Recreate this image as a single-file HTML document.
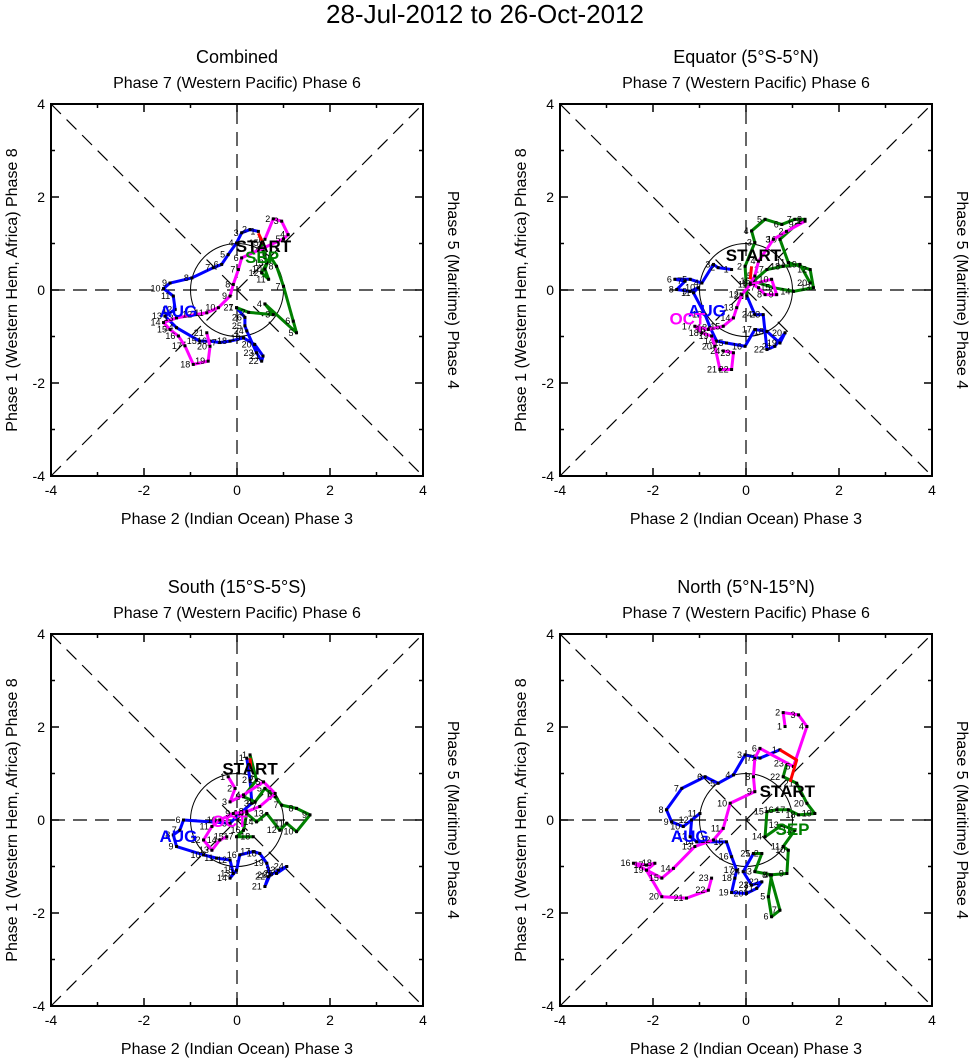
<!DOCTYPE html>
<html><head><meta charset="utf-8"><style>
body{margin:0;background:#fff}
svg{display:block;font-family:"Liberation Sans",sans-serif}
</style></head><body>
<svg id="chart" width="971" height="1058" viewBox="0 0 971 1058" xmlns="http://www.w3.org/2000/svg">
<text x="485" y="23" font-size="26" text-anchor="middle">28-Jul-2012 to 26-Oct-2012</text>
</svg>
<script>
const panelTitles = ["Combined", "Equator (5°S-5°N)", "South (15°S-5°S)", "North (5°N-15°N)"];
const tickValues = [-4, -2, 0, 2, 4];
const augX = [
 [0.46,0.28,0.10,-0.01,-0.19,-0.33,-0.51,-0.97,-1.44,-1.58,-1.37,-1.33,-1.55,-1.30,-0.80,-0.58,-0.37,-0.15,0.14,0.38,0.56,0.53,0.42,0.21,0.17,0.17,-0.01],
 [-0.31,-0.60,-0.70,-0.95,-1.20,-1.53,-1.31,-1.49,-1.20,-1.03,-1.13,-0.88,-0.77,-0.63,-0.42,-0.02,0.19,0.45,0.73,0.84,0.62,0.45,0.37,0.19,0.02],
 [0.21,0.28,0.32,0.06,-0.15,-1.15,-1.23,-1.37,-1.30,-0.72,-0.44,-0.15,-0.08,-0.15,-0.01,0.06,0.35,0.49,0.64,0.71,0.60,0.67,0.89,1.07,0.85],
 [0.73,0.30,-0.02,-0.27,-0.60,-0.88,-1.38,-1.71,-1.60,-1.35,-0.99,-1.17,-1.20,-1.06,-0.42,-0.31,-0.20,-0.24,-0.31,0.01,0.23,0.34,0.12,-0.06,0.16]];
const augY = [
 [1.26,1.30,1.23,1.01,0.76,0.55,0.48,0.26,0.15,0.03,-0.13,-0.42,-0.56,-0.81,-1.10,-1.10,-1.13,-1.10,-1.03,-1.17,-1.42,-1.53,-1.35,-0.88,-0.77,-0.59,-0.38],
 [0.44,0.48,0.55,0.15,0.23,0.23,0.19,0.01,-0.03,0.05,-0.06,-0.53,-0.81,-1.10,-1.14,-1.21,-0.85,-0.89,-1.14,-0.92,-1.21,-1.28,-0.53,-0.53,-0.13],
 [1.33,0.86,0.36,0.14,-0.07,0,-0.22,-0.32,-0.57,-0.75,-0.82,-0.86,-1.15,-1.25,-1.08,-0.75,-0.68,-0.72,-0.93,-1.18,-1.43,-1.22,-1.08,-1.00,-1.15],
 [1.51,1.33,1.40,0.97,0.79,0.93,0.68,0.22,-0.04,-0.14,0.14,0,-0.36,-0.47,-0.47,-0.79,-1.08,-1.25,-1.56,-1.58,-1.47,-1.33,-1.40,-1.11,-0.72]];
const sepX = [
 [-0.01,0.25,0.78,0.60,1.28,1.21,1.0,0.85,0.71,0.60,0.68,0.53,0.64,0.56,0.53],
 [0.02,-0.02,0.19,0.12,0.41,0.77,1.05,1.27,1.09,0.73,0.91,1.38,1.45,1.02,0.59,0.16,0.45,0.80,1.16,1.38],
 [0.28,0.42,0.14,0.39,0.60,0.82,0.96,1.28,1.57,1.28,1.07,0.92,0.64,0.42,0.21,0.14,-0.01,0.35],
 [0.16,0.34,0.19,0.55,0.48,0.55,0.73,0.52,0.88,0.91,0.80,1.05,0.77,0.41,0.45,0.66,0.91,1.13,1.48,1.31,1.09,0.80,0.88]];
const sepY = [
 [-0.38,-0.48,-0.53,-0.30,-0.92,-0.67,0.08,0.51,0.73,0.45,0.23,0.37,0.58,0.87,1.01],
 [-0.13,0.51,1.02,1.27,1.52,1.41,1.52,1.52,1.41,1.09,0.59,0.44,0.05,-0.03,0.05,0.19,0.44,0.51,0.55,0.15],
 [1.40,0.86,0.50,0.39,0.68,0.50,0.32,0.25,0.11,-0.25,-0.07,-0.22,0.14,-0.04,0.14,-0.22,-0.36,-0.36],
 [-0.72,-0.72,-1.11,-1.18,-1.65,-2.08,-1.94,-1.18,-1.15,-0.65,-0.57,-0.22,-0.11,-0.36,0.18,0.22,0.22,0.11,0.14,0.36,0.79,0.93,1.22]];
const octX = [
 [0.60,0.78,0.96,1.10,1.0,0.10,0.03,-0.08,-0.15,-0.40,-0.65,-0.90,-1.30,-1.58,-1.44,-1.26,-1.12,-0.94,-0.62,-0.58,-0.65],
 [1.27,0.87,0.59,0.27,0.19,0.09,0.27,0.41,0.66,0.55,0.09,-0.09,-0.20,-0.27,-0.49,-0.81,-1.10,-0.95,-0.74,-0.67,-0.56,-0.31,-0.27,-0.49],
 [-0.19,-0.04,-0.15,0.14,0.57,0.82,0.49,0.21,-0.08,-0.37,-0.54,-0.72,-0.54,-0.37,-0.22],
 [0.84,0.80,1.13,1.31,1.02,0.30,0.19,0.16,0.19,-0.34,-0.49,-0.70,-1.10,-1.56,-1.81,-2.42,-2.14,-1.96,-2.14,-1.81,-1.28,-0.81,-0.74]];
const octY = [
 [1.09,1.53,1.48,1.19,1.10,0.69,0.44,0.12,-0.13,-0.38,-0.49,-0.53,-0.60,-0.70,-0.85,-0.99,-1.20,-1.60,-1.53,-1.21,-0.92],
 [1.48,1.26,1.09,0.62,0.30,0.15,0.05,-0.10,-0.10,0.23,0.12,-0.10,-0.38,-0.60,-0.78,-0.85,-0.78,-0.92,-0.99,-1.21,-1.71,-1.71,-1.35,-1.31],
 [0.93,0.68,0.39,0.54,0.82,0.57,0.29,0.18,0.14,0,-0.14,-0.43,-0.65,-0.43,-0.36],
 [2.01,2.31,2.26,2.01,1.15,1.54,1.33,0.93,0.61,0.36,-0.18,-0.43,-0.57,-1.04,-1.25,-0.93,-0.97,-0.93,-1.08,-1.65,-1.68,-1.51,-1.25]];
const redX = [[0.46,0.56],[0.12,0.09],[0.28,0.30],[0.73,1.09,0.95]];
const redY = [[1.22,1.01],[0.51,0.23],[1.33,1.10],[1.51,1.29,0.82]];
const startLbl = [[0.57,0.82],[0.16,0.62],[0.28,0.98],[0.89,0.49]];
const augLbl = [[-1.26,-0.58],[-0.84,-0.57],[-1.26,-0.47],[-1.21,-0.47]];
const secondLbl = [["SEP","green",0.54,0.58],["OCT","#ff00ff",-1.26,-0.74],["OCT","#ff00ff",-0.16,-0.15],["SEP","green",1.0,-0.32]];

const svg = document.getElementById('chart');
const NS = "http://www.w3.org/2000/svg";
function mk(tag, attrs, parent){const e=document.createElementNS(NS,tag);for(const k in attrs)e.setAttribute(k,attrs[k]);(parent||svg).appendChild(e);return e;}
const origins = [[51,104],[560,104],[51,634],[560,634]];
const S = 372;
origins.forEach((o,p)=>{
  const x0=o[0], y0=o[1];
  const sx = v => x0 + (v+4)/8*S;
  const sy = v => y0 + (4-v)/8*S;
  const g = mk('g',{});
  
  
  const cx = x0+S/2, cy=y0+S/2;
  let t=mk('text',{x:cx,y:y0-41,'font-size':18,'text-anchor':'middle'},g);t.textContent=panelTitles[p];
  
  t=mk('text',{x:cx,y:y0-16,'font-size':16,'text-anchor':'middle'},g);t.textContent="Phase 7 (Western Pacific) Phase 6";
  
  t=mk('text',{x:cx,y:y0+S+48,'font-size':16,'text-anchor':'middle'},g);t.textContent="Phase 2 (Indian Ocean) Phase 3";
  
  t=mk('text',{x:0,y:0,'font-size':16,'text-anchor':'middle',transform:`translate(${x0-34},${cy}) rotate(-90)`},g);t.textContent="Phase 1 (Western Hem, Africa) Phase 8";
  
  t=mk('text',{x:0,y:0,'font-size':16,'text-anchor':'middle',transform:`translate(${x0+S+25},${cy}) rotate(90)`},g);t.textContent="Phase 5 (Maritime) Phase 4";
  
  const dash={stroke:'#000','stroke-width':1.2,'stroke-dasharray':'14 8',fill:'none'};
  [[-4,4,4,-4],[-4,-4,4,4],[-4,0,4,0],[0,-4,0,4]].forEach(d=>{
    const l=mk('line',Object.assign({x1:sx(d[0]),y1:sy(d[1]),x2:sx(d[2]),y2:sy(d[3])},dash),g);
    
  });
  const c=mk('circle',{cx:sx(0),cy:sy(0),r:S/8,fill:'none',stroke:'#000','stroke-width':1},g);
  
  const fr=mk('rect',{x:x0,y:y0,width:S,height:S,fill:'none',stroke:'#000','stroke-width':2},g);
  
  for(let v=-4;v<=4;v++){
    const L = v%2===0?8:4;
    mk('line',{x1:sx(v),y1:y0+S,x2:sx(v),y2:y0+S-L,stroke:'#000','stroke-width':1.5},g);
    mk('line',{x1:sx(v),y1:y0,x2:sx(v),y2:y0+L,stroke:'#000','stroke-width':1.5},g);
    mk('line',{x1:x0,y1:sy(v),x2:x0+L,y2:sy(v),stroke:'#000','stroke-width':1.5},g);
    mk('line',{x1:x0+S,y1:sy(v),x2:x0+S-L,y2:sy(v),stroke:'#000','stroke-width':1.5},g);
  }
  tickValues.forEach(v=>{
    let tt=mk('text',{x:sx(v),y:y0+S+19,'font-size':14,'text-anchor':'middle'},g);tt.textContent=v;
    
    tt=mk('text',{x:x0-6,y:sy(v)+5,'font-size':14,'text-anchor':'end'},g);tt.textContent=v;
    
  });
  function track(xs,ys,color,name,labels){
    const pts=xs.map((v,i)=>sx(v)+','+sy(ys[i])).join(' ');
    const pl=mk('polyline',{points:pts,fill:'none',stroke:color,'stroke-width':3,'stroke-linejoin':'round'},g);
    
    if(!labels)return;
    xs.forEach((v,i)=>{
      mk('rect',{x:sx(v)-1.5,y:sy(ys[i])-1.5,width:3,height:3,fill:'#000'},g);
      const n=mk('text',{x:sx(v)-3,y:sy(ys[i])+3,'font-size':9,'text-anchor':'end'},g);
      n.textContent=(i+1);
      
    });
  }
  track(augX[p],augY[p],'#0000ff','aug-track',true);
  track(sepX[p],sepY[p],'green','sep-track',true);
  track(octX[p],octY[p],'#ff00ff','oct-track',true);
  track(redX[p],redY[p],'red','end-track',false);
  const bold={'font-size':17,'font-weight':'bold','text-anchor':'middle'};
  t=mk('text',Object.assign({x:sx(startLbl[p][0]),y:sy(startLbl[p][1]),fill:'#000'},bold),g);t.textContent="START";
  
  t=mk('text',Object.assign({x:sx(augLbl[p][0]),y:sy(augLbl[p][1]),fill:'#0000ff'},bold),g);t.textContent="AUG";
  
  const s2=secondLbl[p];
  t=mk('text',Object.assign({x:sx(s2[2]),y:sy(s2[3]),fill:s2[1]},bold),g);t.textContent=s2[0];
  
});
</script>
</body></html>
